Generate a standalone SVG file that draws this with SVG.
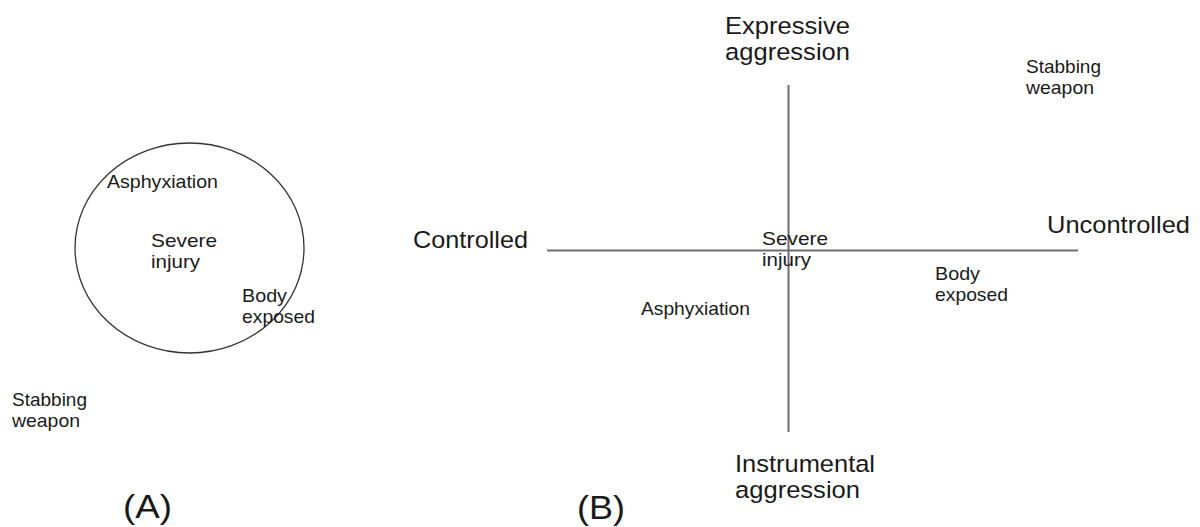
<svg xmlns="http://www.w3.org/2000/svg" width="1200" height="527" viewBox="0 0 1200 527">
<style>
text{font-family:"Liberation Sans",Arial,sans-serif;fill:#1a1a1a}
.s{font-size:19px}
.l{font-size:24.5px}
.t{font-size:33px}
.axis{stroke:#6e6e6e;stroke-width:2;fill:none}
.ring{stroke:#333;stroke-width:1.3;fill:none}
</style>
<rect width="1200" height="527" fill="#fff"/>
<g id="panelA">
  <g id="circleA"><ellipse class="ring" cx="189.5" cy="248" rx="114.5" ry="105"/></g>
  <g id="A-asphyxiation"><text class="s" x="107" y="188" textLength="111" lengthAdjust="spacingAndGlyphs">Asphyxiation</text></g>
  <g id="A-severe"><text class="s" x="151" y="247" textLength="66" lengthAdjust="spacingAndGlyphs">Severe</text><text class="s" x="151" y="268" textLength="49" lengthAdjust="spacingAndGlyphs">injury</text></g>
  <g id="A-body"><text class="s" x="242" y="302" textLength="45" lengthAdjust="spacingAndGlyphs">Body</text><text class="s" x="242" y="323" textLength="73" lengthAdjust="spacingAndGlyphs">exposed</text></g>
  <g id="A-stabbing"><text class="s" x="12" y="406" textLength="75" lengthAdjust="spacingAndGlyphs">Stabbing</text><text class="s" x="12" y="427" textLength="68" lengthAdjust="spacingAndGlyphs">weapon</text></g>
  <g id="labelA"><text class="t" x="123" y="518" textLength="49" lengthAdjust="spacingAndGlyphs">(A)</text></g>
</g>
<g id="panelB">
  <g id="connectors">
    <line class="axis" x1="788.5" y1="85" x2="788.5" y2="432"/>
    <line class="axis" x1="547" y1="250.5" x2="1078" y2="250.5"/>
  </g>
  <g id="B-expressive"><text class="l" x="725" y="34" textLength="125" lengthAdjust="spacingAndGlyphs">Expressive</text><text class="l" x="725" y="60" textLength="125" lengthAdjust="spacingAndGlyphs">aggression</text></g>
  <g id="B-controlled"><text class="l" x="413" y="248" textLength="115" lengthAdjust="spacingAndGlyphs">Controlled</text></g>
  <g id="B-uncontrolled"><text class="l" x="1047" y="233" textLength="143" lengthAdjust="spacingAndGlyphs">Uncontrolled</text></g>
  <g id="B-instrumental"><text class="l" x="735" y="472" textLength="140" lengthAdjust="spacingAndGlyphs">Instrumental</text><text class="l" x="735" y="498" textLength="125" lengthAdjust="spacingAndGlyphs">aggression</text></g>
  <g id="B-severe"><text class="s" x="762" y="245" textLength="66" lengthAdjust="spacingAndGlyphs">Severe</text><text class="s" x="762" y="266" textLength="49" lengthAdjust="spacingAndGlyphs">injury</text></g>
  <g id="B-body"><text class="s" x="935" y="280" textLength="45" lengthAdjust="spacingAndGlyphs">Body</text><text class="s" x="935" y="301" textLength="73" lengthAdjust="spacingAndGlyphs">exposed</text></g>
  <g id="B-stabbing"><text class="s" x="1026" y="73" textLength="75" lengthAdjust="spacingAndGlyphs">Stabbing</text><text class="s" x="1026" y="94" textLength="68" lengthAdjust="spacingAndGlyphs">weapon</text></g>
  <g id="B-asphyxiation"><text class="s" x="641" y="315" textLength="109" lengthAdjust="spacingAndGlyphs">Asphyxiation</text></g>
  <g id="labelB"><text class="t" x="577" y="519" textLength="48" lengthAdjust="spacingAndGlyphs">(B)</text></g>
</g>
</svg>
